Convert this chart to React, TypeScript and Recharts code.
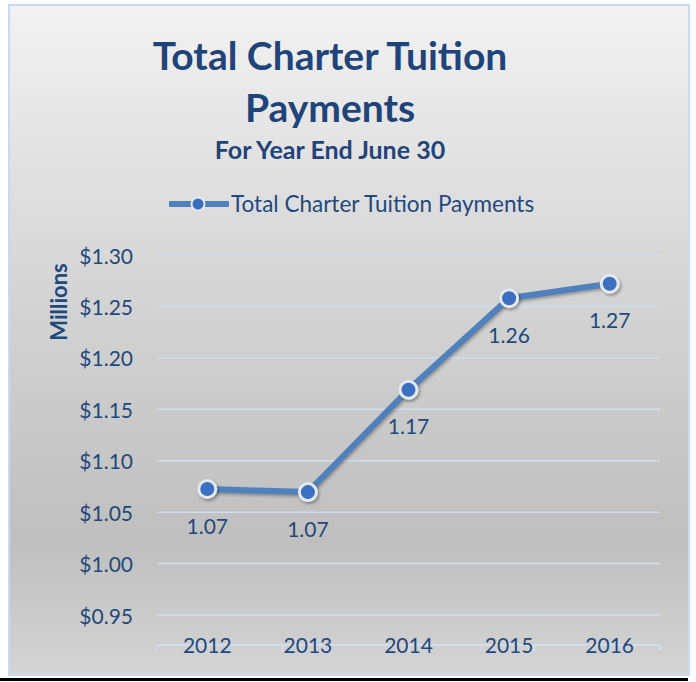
import React from 'react'
import { LineChart, Line, XAxis, YAxis, CartesianGrid, Legend, LabelList } from 'recharts'

const years = ['2012', '2013', '2014', '2015', '2016']
const payments = [1.0725, 1.0695, 1.169, 1.258, 1.272]
const yTicks = [0.95, 1.0, 1.05, 1.1, 1.15, 1.2, 1.25, 1.3]
const boundaryTicks = [0, 1, 2, 3, 4, 5]
const seriesName = 'Total Charter Tuition Payments'

const TEXT = '#1F497D'
const LINE = '#4F81BD'
const GRID = '#d2deef'
const FONT = 'Lato, "Open Sans", sans-serif'

const data = years.map((year, i) => ({ year, value: payments[i] }))

function XTick({ x, y, payload }: any) {
  return (
    <text x={x} y={y + 29} textAnchor="middle" dominantBaseline="central" fill={TEXT} fontSize={21} fontFamily={FONT}>
      {payload.value}
    </text>
  )
}

function YTick({ x, y, payload }: any) {
  return (
    <text x={x} y={y} textAnchor="end" dominantBaseline="central" fill={TEXT} fontSize={21} fontFamily={FONT}>
      {`$${Number(payload.value).toFixed(2)}`}
    </text>
  )
}

function Dot({ cx, cy }: any) {
  if (cx == null || cy == null) return null
  return <circle cx={cx} cy={cy} r={8.5} fill="#3a6fc0" stroke="#e4e9ef" strokeWidth={3} filter="url(#shadow)" />
}

function ValueLabel({ x, y, value }: any) {
  return (
    <text x={x} y={y + 36} textAnchor="middle" dominantBaseline="central" fill={TEXT} fontSize={21} fontFamily={FONT}>
      {Number(value).toFixed(2)}
    </text>
  )
}

function LegendContent() {
  return (
    <div style={{ display: 'flex', alignItems: 'center', fontFamily: FONT, fontSize: 22.5, color: TEXT, whiteSpace: 'nowrap' }}>
      <svg width={60} height={20}>
        <line x1={2} y1={10} x2={58} y2={10} stroke={LINE} strokeWidth={6} strokeLinecap="round" />
        <circle cx={29} cy={10} r={6.5} fill="#3a6fc0" stroke="#e4e9ef" strokeWidth={2} />
      </svg>
      <span style={{ marginLeft: 2 }}>{seriesName}</span>
    </div>
  )
}

export default function App() {
  return (
    <div style={{ position: 'absolute', left: 0, top: 0, width: 696, height: 682, background: '#fff', overflow: 'hidden' }}>
      <div
        style={{
          position: 'absolute',
          left: 8,
          top: 4,
          width: 682,
          height: 672,
          boxSizing: 'border-box',
          border: '2px solid #c9d9ee',
          background: 'linear-gradient(180deg, #f2f2f2 0%, #d6d6d6 40%, #bfbfbf 80%, #d4d4d4 100%)',
        }}
      />
      <div style={{ position: 'absolute', left: 0, top: 678, width: 688, height: 3, background: '#000' }} />
      <div style={{ position: 'absolute', left: 0, top: 0 }}>
        <LineChart width={696} height={682} data={data} margin={{ top: 255, right: 36, bottom: 36, left: 57 }}>
          <defs>
            <filter id="shadow" x="-50%" y="-50%" width="200%" height="200%">
              <feDropShadow dx={1.5} dy={2} stdDeviation={1.5} floodColor="#000" floodOpacity={0.35} />
            </filter>
          </defs>
          <CartesianGrid vertical={false} stroke={GRID} strokeWidth={1.5} />
          <XAxis
            xAxisId="frame"
            type="number"
            domain={[0, 5]}
            ticks={boundaryTicks}
            allowDataOverflow
            height={1}
            tick={() => <g />}
            tickSize={6}
            axisLine={{ stroke: GRID, strokeWidth: 2 }}
            tickLine={{ stroke: GRID, strokeWidth: 2 }}
          />
          <XAxis
            dataKey="year"
            scale="band"
            height={30}
            axisLine={false}
            tickLine={false}
            tickSize={0}
            tickMargin={0}
            tick={<XTick />}
          />
          <YAxis
            width={100}
            domain={[0.95, 1.3]}
            ticks={yTicks}
            axisLine={false}
            tickLine={false}
            tickSize={0}
            tickMargin={24}
            tick={<YTick />}
            label={({ viewBox }: any) => (
              <text
                x={viewBox.x + 1}
                y={viewBox.y + 47}
                transform={`rotate(-90, ${viewBox.x + 1}, ${viewBox.y + 47})`}
                textAnchor="middle"
                dominantBaseline="central"
                fill={TEXT}
                fontSize={22}
                fontWeight="bold"
                fontFamily={FONT}
              >
                Millions
              </text>
            )}
          />
          <Legend verticalAlign="middle" align="center" content={<LegendContent />} wrapperStyle={{ top: 190, left: 169, width: 'auto' }} />
          <Line
            type="linear"
            dataKey="value"
            name={seriesName}
            stroke={LINE}
            strokeWidth={6}
            dot={<Dot />}
            activeDot={false}
            isAnimationActive={false}
            style={{ filter: 'drop-shadow(1px 2px 1.5px rgba(0,0,0,0.3))' }}
          >
            <LabelList dataKey="value" content={<ValueLabel />} />
          </Line>
        </LineChart>
      </div>
      <svg width={696} height={182} style={{ position: 'absolute', left: 0, top: 0, pointerEvents: 'none' }}>
        <g fontFamily={FONT} fill="#1f4479" fontWeight="bold" textAnchor="middle">
          <text x={330} y={70} fontSize={39}>Total Charter Tuition</text>
          <text x={330} y={122} fontSize={39}>Payments</text>
          <text x={330} y={159} fontSize={25}>For Year End June 30</text>
        </g>
      </svg>
    </div>
  )
}
